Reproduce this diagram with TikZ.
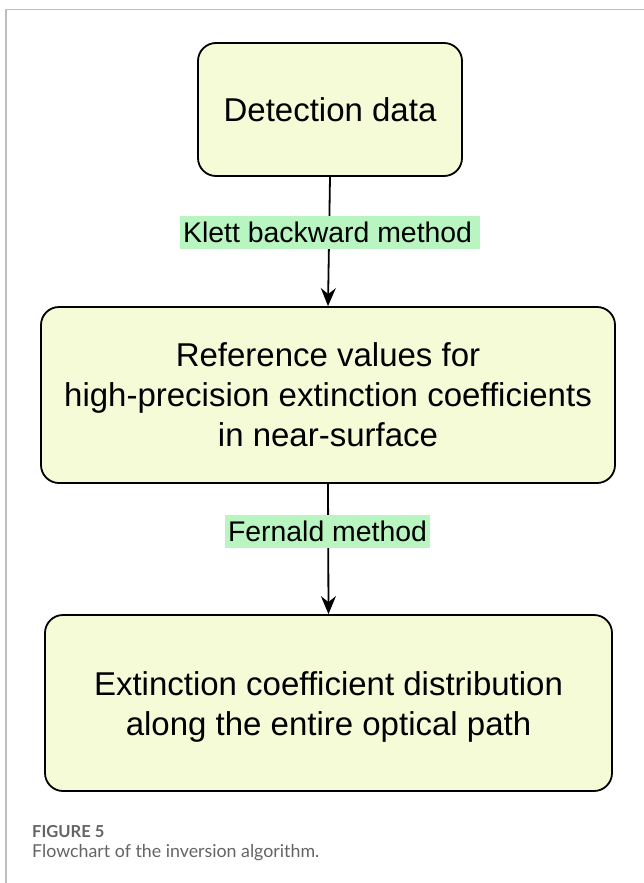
\documentclass[tikz,border=0pt]{standalone}
\usepackage{fontspec}
\setmainfont{Liberation Sans}
\newfontfamily\capfont{Lato}
\usetikzlibrary{arrows.meta}
\definecolor{boxfill}{RGB}{245,250,215}
\definecolor{lblfill}{RGB}{185,245,192}
\definecolor{framegray}{RGB}{190,190,190}
\definecolor{capgray}{RGB}{100,100,100}
\begin{document}
\begin{tikzpicture}[x=1pt,y=-1pt,
  boxtext/.style={align=center,font=\fontsize{33}{40}\selectfont,inner sep=0pt},
  flowbox/.style={draw=black,line width=1.8pt,fill=boxfill,rounded corners=18pt,boxtext},
  lbl/.style={fill=lblfill,font=\fontsize{28.4}{32}\selectfont,inner xsep=3pt,inner ysep=3pt,minimum height=33pt},
  conn/.style={line width=1.8pt,-{Stealth[length=18pt,width=15pt,inset=6pt]}}]
\useasboundingbox (0,0) rectangle (644,883);
\fill[white] (0,0) rectangle (644,883);
\draw[framegray,line width=1.2pt] (6,883) -- (6,9.5) -- (644,9.5);
\node[flowbox,minimum width=264pt,minimum height=133pt] (b1) at (330,109.5) {Detection data};
\node[flowbox,minimum width=574pt,minimum height=176pt] (b2) at (328,395)
  {Reference values for\\high-precision extinction coefficients\\in near-surface};
\node[flowbox,minimum width=567pt,minimum height=176pt] (b3) at (328.5,703) {};
\node[boxtext] (b3t) at (328.5,707)
  {Extinction coefficient distribution\\along the entire optical path};
\draw[conn] (b1.south) -- (b2.north);
\draw[conn] (b2.south) -- (b3.north);
\node[lbl] (l1) at (330,232.5) {Klett backward method\,};
\node[lbl] (l2) at (327.5,531.5) {Fernald method};
\node[anchor=west,text=capgray,font=\capfont\bfseries\fontsize{16.5}{18}\selectfont,inner sep=0pt] (cap1) at (32,832) {FIGURE 5};
\node[anchor=west,text=capgray,font=\capfont\fontsize{17.8}{20}\selectfont,inner sep=0pt] (cap2) at (32,853) {Flowchart of the inversion algorithm.};
\end{tikzpicture}
\end{document}
